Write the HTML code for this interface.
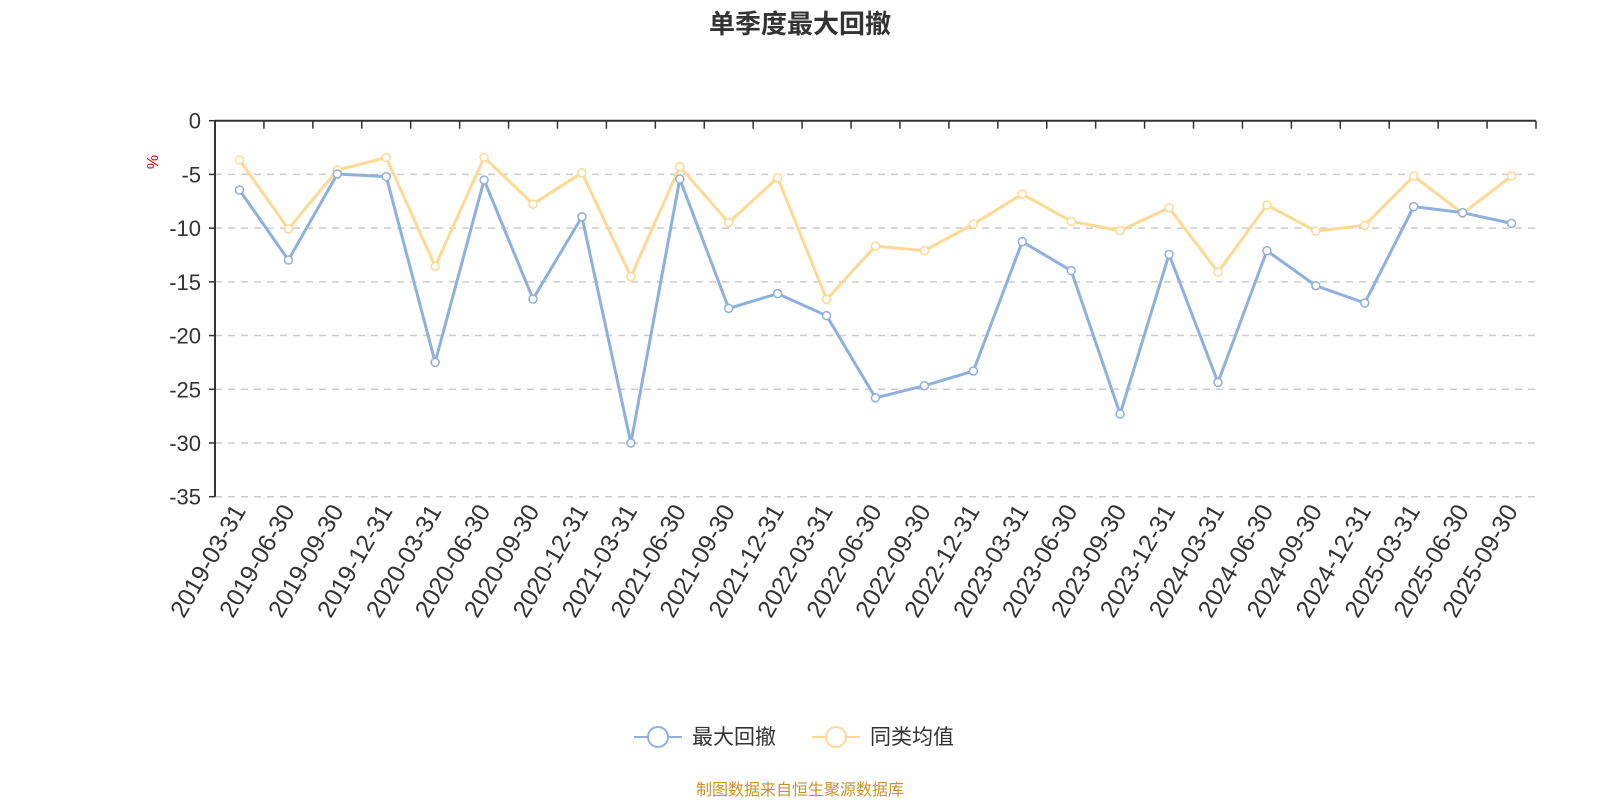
<!DOCTYPE html>
<html><head><meta charset="utf-8"><style>
html,body{margin:0;padding:0;background:#fff;}
svg{display:block;font-family:"Liberation Sans","Noto Sans CJK SC",sans-serif;}
</style></head><body>
<svg id="chart" width="1600" height="800" viewBox="0 0 1600 800">
<text x="800" y="33" text-anchor="middle" font-size="26" font-weight="bold" fill="#333">单季度最大回撤</text>
<text x="0" y="0" transform="translate(158,162) rotate(-90)" text-anchor="middle" font-size="16" fill="#e00">%</text>
<g id="grid"></g><g id="axes"></g><g id="series"></g>
<g>
<g>
<line x1="634" y1="737" x2="682" y2="737" stroke="#8eb0dc" stroke-width="2"/>
<circle cx="658" cy="737" r="10" fill="#fff" stroke="#8eb0dc" stroke-width="2"/>
<text x="692" y="744" font-size="21" fill="#333">最大回撤</text></g>
<g>
<line x1="812" y1="737" x2="860" y2="737" stroke="#fdd994" stroke-width="2"/>
<circle cx="836" cy="737" r="10" fill="#fff" stroke="#fdd994" stroke-width="2"/>
<text x="870" y="744" font-size="21" fill="#333">同类均值</text></g>
</g>
<text x="800" y="795" text-anchor="middle" font-size="16" fill="#c8922a">制图数据来自恒生聚源数据库</text>
</svg>
<script>
const categories=["2019-03-31","2019-06-30","2019-09-30","2019-12-31","2020-03-31","2020-06-30","2020-09-30","2020-12-31","2021-03-31","2021-06-30","2021-09-30","2021-12-31","2022-03-31","2022-06-30","2022-09-30","2022-12-31","2023-03-31","2023-06-30","2023-09-30","2023-12-31","2024-03-31","2024-06-30","2024-09-30","2024-12-31","2025-03-31","2025-06-30","2025-09-30"];
const maxDrawdown=[-6.45,-12.97,-4.96,-5.2,-22.5,-5.52,-16.6,-8.94,-30.0,-5.43,-17.47,-16.1,-18.15,-25.8,-24.67,-23.3,-11.26,-13.96,-27.3,-12.44,-24.36,-12.1,-15.36,-16.97,-8.0,-8.56,-9.56];
const peerAverage=[-3.66,-10.08,-4.59,-3.44,-13.56,-3.41,-7.76,-4.84,-14.52,-4.28,-9.49,-5.3,-16.63,-11.67,-12.1,-9.62,-6.83,-9.37,-10.24,-8.1,-14.09,-7.85,-10.27,-9.74,-5.15,-8.63,-5.15];
const yTicks=[0,-5,-10,-15,-20,-25,-30,-35];
const NS="http://www.w3.org/2000/svg";
const L=215,R=1536,T=120.7,B=496.7,yMin=-35,yMax=0;
const band=(R-L)/categories.length;
function xs(i){return L+band*(i+0.5);}
function ys(v){return T+(yMax-v)/(yMax-yMin)*(B-T);}
function mk(tag,attrs,parent){const e=document.createElementNS(NS,tag);for(const k in attrs)e.setAttribute(k,attrs[k]);parent.appendChild(e);return e;}
const grid=document.getElementById('grid'),axes=document.getElementById('axes'),series=document.getElementById('series');
yTicks.forEach(v=>{
  const y=ys(v);
  if(v!==0){const g=mk('line',{x1:L,x2:R,y1:y,y2:y,stroke:'#ccc','stroke-width':1.5,'stroke-dasharray':'7,6'},grid);
  
  }
  mk('line',{x1:L-6,x2:L,y1:y,y2:y,stroke:'#333','stroke-width':1.5},axes);
  const t=mk('text',{x:L-14,y:y+8,'text-anchor':'end','font-size':22,fill:'#333'},axes);
  t.textContent=String(v);
  
  
});
const ya=mk('line',{x1:L,x2:L,y1:T,y2:B,stroke:'#333','stroke-width':2},axes);


const xa=mk('line',{x1:L,x2:R,y1:T,y2:T,stroke:'#333','stroke-width':2},axes);


for(let i=0;i<=categories.length;i++){mk('line',{x1:L+band*i,x2:L+band*i,y1:T,y2:T+8,stroke:'#333','stroke-width':1.5},axes);}
categories.forEach((c,i)=>{
  const x=xs(i),y=B+14;
  const t=mk('text',{x:0,y:0,transform:`translate(${x+7},${y}) rotate(-60)`,'text-anchor':'end','font-size':24.5,fill:'#333'},axes);
  t.textContent=c;
  
  
});
function drawSeries(vals,color,name){
  const pts=vals.map((v,i)=>xs(i)+','+ys(v)).join(' ');
  const pl=mk('polyline',{points:pts,fill:'none',stroke:color,'stroke-width':3,'stroke-linejoin':'round'},series);
  
  
  vals.forEach((v,i)=>{
    const c=mk('circle',{cx:xs(i),cy:ys(v),r:4,fill:'#fff',stroke:color,'stroke-width':1.5},series);
    
    
  });
}
drawSeries(peerAverage,'#fdd994','peer-average');
drawSeries(maxDrawdown,'#8eb0dc','max-drawdown');
</script>
</body></html>
